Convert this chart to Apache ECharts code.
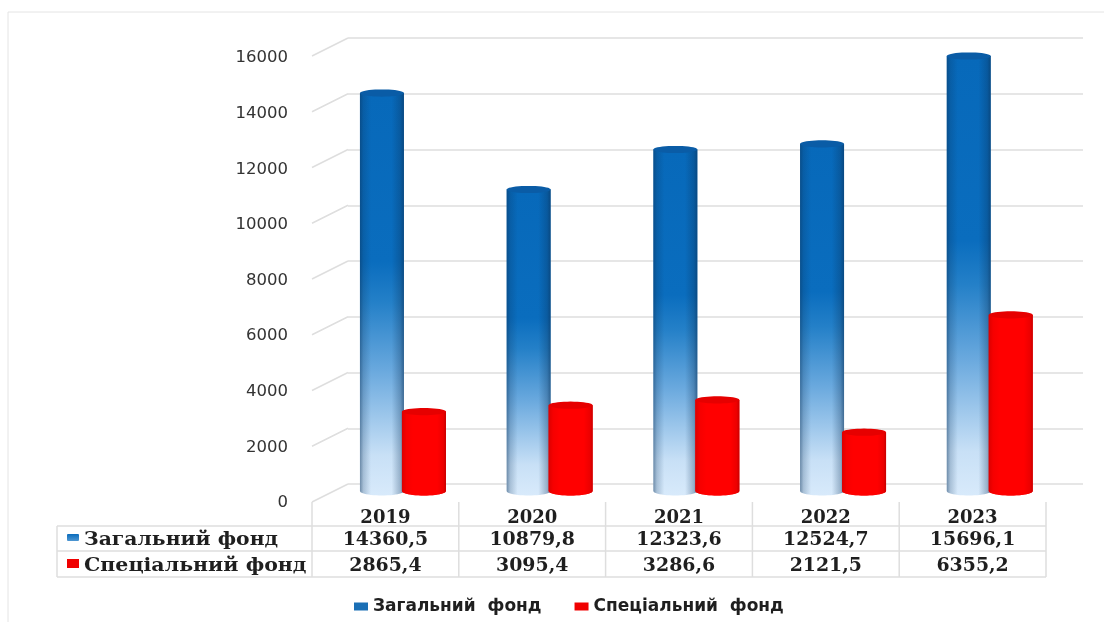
<!DOCTYPE html>
<html><head><meta charset="utf-8">
<style>html,body{margin:0;padding:0;background:#fff}#c{width:1104px;height:622px}</style>
<script src="https://cdn.jsdelivr.net/npm/echarts@6/dist/echarts.min.js"></script>
</head><body><div id="c"></div>
<script>
const years = ['2019','2020','2021','2022','2023'];
const generalName = 'Загальний фонд';
const specialName = 'Спеціальний фонд';
const general = [14360.5,10879.8,12323.6,12524.7,15696.1];
const special = [2865.4,3095.4,3286.6,2121.5,6355.2];
const yTicks = [0,2000,4000,6000,8000,10000,12000,14000,16000];

const fmt = v => v.toFixed(1).replace('.',',');
const ellipsePts = (cx,cy,rx,ry,from,to,n=24) => {
  const p=[]; for(let i=0;i<=n;i++){const a=from+(to-from)*i/n; p.push([cx+rx*Math.cos(a),cy+ry*Math.sin(a)]);} return p;
};
const hGrad = stops => ({type:'linear',x:0,y:0,x2:1,y2:0,colorStops:stops});
const vGrad = stops => ({type:'linear',x:0,y:0,x2:0,y2:1,colorStops:stops});

function cylinder(offset, bodyFill, edgeFill, topFill){
  return function(params, api){
    const top = api.coord([api.value(0), api.value(1)]);
    const base = api.coord([api.value(0), 0]);
    const cx = top[0]+offset, rx=22, ry=4.5;
    const body = [[cx-rx,top[1]],[cx+rx,top[1]]].concat(ellipsePts(cx,base[1],rx,ry,0,Math.PI));
    return {type:'group',silent:true,children:[
      {type:'polygon',shape:{points:body},style:{fill:bodyFill}},
      {type:'polygon',shape:{points:body},style:{fill:edgeFill}},
      {type:'polygon',shape:{points:ellipsePts(cx,top[1],rx,3.6,0,2*Math.PI,40)},style:{fill:topFill}}
    ]};
  };
}
const blueBody = vGrad([{offset:0,color:'#0769ba'},{offset:.42,color:'#0a6dbe'},{offset:.52,color:'#2480c8'},{offset:.69,color:'#6aa9de'},{offset:.9,color:'#c8e0f6'},{offset:1,color:'#d8eafb'}]);
const blueEdge = hGrad([{offset:0,color:'rgba(10,50,90,.5)'},{offset:.08,color:'rgba(10,50,90,.22)'},{offset:.25,color:'rgba(10,50,90,0)'},{offset:.72,color:'rgba(10,50,90,0)'},{offset:.92,color:'rgba(10,50,90,.3)'},{offset:1,color:'rgba(10,50,90,.6)'}]);
const redEdge = hGrad([{offset:0,color:'#dc0000'},{offset:.1,color:'#f60000'},{offset:.25,color:'#ff0000'},{offset:.8,color:'#ff0000'},{offset:.94,color:'#ec0000'},{offset:1,color:'#c80000'}]);

// table layout
const T = {left:57,label:312,right:1046,head:502,r1:526,r2:551,r3:577};
const colW = (T.right-T.label)/years.length;
const gridColor='#dedede', ink='#1f1f1f';
const serif = '"DejaVu Serif"';
const tableEls = [];
const hline=(x1,x2,y)=>tableEls.push({type:'line',silent:true,shape:{x1,y1:y,x2,y2:y},style:{stroke:gridColor,lineWidth:1.5}});
const vline=(x,y1,y2)=>tableEls.push({type:'line',silent:true,shape:{x1:x,y1,x2:x,y2},style:{stroke:gridColor,lineWidth:1.5}});
hline(T.left,T.right,T.r1);hline(T.left,T.right,T.r2);hline(T.left,T.right,T.r3);
vline(T.left,T.r1,T.r3);
for(let i=0;i<=years.length;i++)vline(T.label+i*colW,T.head,T.r3);
const rowText=(txt,x,y,align,size,sx)=>tableEls.push({type:'text',silent:true,x,y,scaleX:sx,style:{text:txt,x:0,y:0,textAlign:align,textVerticalAlign:'middle',fill:ink,font:`bold ${size}px ${serif}`}});
[[general,T.r1,T.r2],[special,T.r2,T.r3]].forEach(([arr,y1,y2])=>arr.forEach((v,i)=>rowText(fmt(v),T.label+(i+.5)*colW,(y1+y2)/2+2,'center',18,1.05)));
rowText(generalName,84,(T.r1+T.r2)/2+2,'left',18,1.13);
rowText(specialName,84,(T.r2+T.r3)/2+2,'left',18,1.14);
tableEls.push({type:'rect',silent:true,shape:{x:67,y:534,width:12,height:7,r:1},style:{fill:vGrad([{offset:0,color:'#0a6cbc'},{offset:1,color:'#4f97d2'}])}});
tableEls.push({type:'rect',silent:true,shape:{x:67,y:559,width:12,height:9},style:{fill:'#f00000'}});
// image frame
tableEls.push({type:'polyline',silent:true,shape:{points:[[8,622],[8,12],[1104,12]]},style:{stroke:'#e4e4e4',fill:'none',lineWidth:1}});

const chart = echarts.init(document.getElementById('c'),null,{renderer:'canvas'});
chart.setOption({
  animation:false,
  backgroundColor:'#fff',
  graphic:{elements:tableEls},
  legend:{
    data:[{name:generalName,itemStyle:{color:'#1a6fb5'}},{name:specialName,itemStyle:{color:'#f00000'}}],
    left:349,top:593,itemWidth:14,itemHeight:8,itemGap:33,icon:'rect',selectedMode:false,
    formatter:n=>n.replace(' ','  '),
    textStyle:{fontFamily:'"DejaVu Sans"',fontWeight:'bold',fontSize:17,color:ink,padding:[0,0,0,0]}
  },
  grid:[
    {left:312,width:734,top:58,height:445},
    {left:348,width:735,top:38,height:446},
    {left:329.6,width:733.5,top:47.6,height:443.4}
  ],
  xAxis:[
    {gridIndex:0,type:'category',data:years,axisLine:{show:false},axisTick:{show:false},
      axisLabel:{margin:6,color:ink,fontFamily:serif,fontWeight:'bold',fontSize:18}},
    {gridIndex:1,type:'value',min:0,max:1,show:false},
    {gridIndex:2,type:'category',data:years,show:false}
  ],
  yAxis:[
    {gridIndex:0,type:'value',min:0,max:16000,interval:2000,axisLine:{show:false},axisTick:{show:false},splitLine:{show:false},
      axisLabel:{margin:24,color:'#333',fontFamily:'"DejaVu Sans"',fontSize:16.5,formatter:v=>String(v)}},
    {gridIndex:1,type:'value',min:0,max:16000,interval:2000,axisLine:{show:false},axisTick:{show:false},axisLabel:{show:false},
      splitLine:{show:true,lineStyle:{color:gridColor,width:1.5}}},
    {gridIndex:2,type:'value',min:0,max:16000,interval:2000,show:false,splitLine:{show:false}}
  ],
  series:[
    {name:'walls',type:'custom',xAxisIndex:1,yAxisIndex:1,silent:true,z:1,
      data:yTicks.map(v=>[0,v]),encode:{x:0,y:1},
      renderItem(params,api){
        const p=api.coord([0,api.value(1)]);
        return {type:'line',silent:true,shape:{x1:p[0]-36,y1:p[1]+18,x2:p[0],y2:p[1]},style:{stroke:gridColor,lineWidth:1.5}};
      }},
    {name:generalName,type:'custom',xAxisIndex:2,yAxisIndex:2,z:3,silent:true,
      itemStyle:{color:'#1a6fb5'},
      data:general.map((v,i)=>[i,v]),encode:{x:0,y:1},
      renderItem:cylinder(-21,blueBody,blueEdge,'#0a5ca6')},
    {name:specialName,type:'custom',xAxisIndex:2,yAxisIndex:2,z:4,silent:true,
      itemStyle:{color:'#f00000'},
      data:special.map((v,i)=>[i,v]),encode:{x:0,y:1},
      renderItem:cylinder(21,'#ff0000',redEdge,'#e60000')}
  ]
});
</script></body></html>
